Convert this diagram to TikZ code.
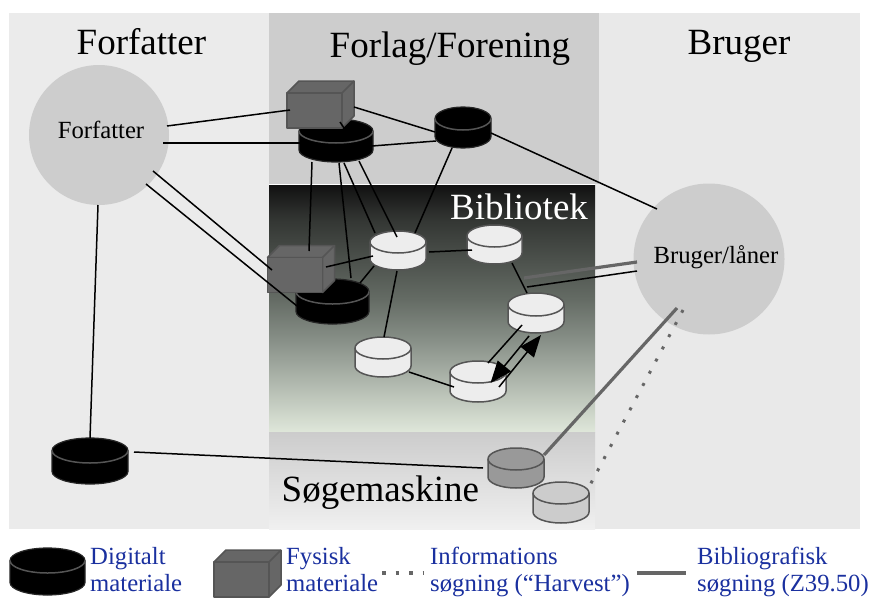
\documentclass[tikz,border=0pt]{standalone}
\usepackage{fontspec}
\setmainfont{Liberation Serif}
\usetikzlibrary{arrows.meta}
\definecolor{panelL}{HTML}{EBEBEB}
\definecolor{panelR}{HTML}{E9E9E9}
\definecolor{panelM}{HTML}{CDCDCD}
\definecolor{roleC}{HTML}{CDCDCD}
\definecolor{boxG}{HTML}{666666}
\definecolor{edgeG}{HTML}{555555}
\definecolor{cylW}{HTML}{EDEDED}
\definecolor{cylF}{HTML}{999999}
\definecolor{cylG}{HTML}{CCCCCC}
\definecolor{legendB}{HTML}{1A309F}
\definecolor{libA}{HTML}{111111}
\definecolor{libB}{HTML}{333633}
\definecolor{libC}{HTML}{646B64}
\definecolor{libD}{HTML}{889088}
\definecolor{libE}{HTML}{DFE7DA}
\definecolor{smTop}{HTML}{CCCCCC}
\definecolor{smBot}{HTML}{F0F0F0}
\pgfdeclareverticalshading{libshade}{100bp}{color(0bp)=(libE); color(25bp)=(libE); color(43.5bp)=(libD); color(52bp)=(libC); color(68bp)=(libB); color(75bp)=(libA); color(100bp)=(libA)}
\pgfdeclareverticalshading{smshade}{100bp}{color(0bp)=(smBot); color(25bp)=(smBot); color(75bp)=(smTop); color(100bp)=(smTop)}
\tikzset{
  x=1pt,y=-1pt,
  title/.style={font=\fontsize{37}{40}\selectfont,anchor=base west,inner sep=0pt},
  small/.style={font=\fontsize{24.7}{28}\selectfont,inner sep=0pt},
  legendtxt/.style={font=\fontsize{24.7}{28}\selectfont,anchor=base west,inner sep=0pt,text=legendB},
  role/.style={circle,fill=roleC,inner sep=0pt},
  link/.style={draw=black,line width=1.5pt},
  biblink/.style={draw=boxG,line width=3.2pt},
  harvest/.style={draw=boxG,line width=3pt,dash pattern=on 3pt off 10.8pt},
  bigarrow/.style={link,-{Triangle[length=22pt,width=17pt]}},
  cylblack/.style={fill=black,draw=black!85!white,line width=1.2pt},
  cylwhite/.style={fill=cylW,draw=edgeG,line width=1.5pt},
  cylgray/.style={fill=cylF,draw=edgeG,line width=1.5pt},
  cyllight/.style={fill=cylG,draw=edgeG,line width=1.5pt},
  cylarc/.style={draw=edgeG,line width=1.5pt},
  boxface/.style={fill=boxG,draw=edgeG,line width=1.5pt,line join=round},
}
% name, x, y, width, height, ellipse radius, style
\newcommand{\cylnode}[7]{%
  \node[minimum width=#4pt,minimum height=#5pt,inner sep=0pt] (#1) at (#2,#3) {};
  \begin{scope}[shift={(#2,#3)}]
    \pgfmathsetmacro{\cylA}{#4/2}
    \pgfmathsetmacro{\cylR}{#6}
    \pgfmathsetmacro{\cylB}{#5/2-#6}
    \pgfmathsetmacro{\cylK}{.5523*\cylA}
    \pgfmathsetmacro{\cylM}{.5523*\cylR}
    \draw[#7] (-\cylA,-\cylB) .. controls (-\cylA,-\cylB-\cylM) and (-\cylK,-\cylB-\cylR) .. (0,-\cylB-\cylR)
       .. controls (\cylK,-\cylB-\cylR) and (\cylA,-\cylB-\cylM) .. (\cylA,-\cylB)
       -- (\cylA,\cylB) .. controls (\cylA,\cylB+\cylM) and (\cylK,\cylB+\cylR) .. (0,\cylB+\cylR)
       .. controls (-\cylK,\cylB+\cylR) and (-\cylA,\cylB+\cylM) .. (-\cylA,\cylB) -- cycle;
    \draw[cylarc] (-\cylA,-\cylB) .. controls (-\cylA,-\cylB+\cylM) and (-\cylK,-\cylB+\cylR) .. (0,-\cylB+\cylR)
       .. controls (\cylK,-\cylB+\cylR) and (\cylA,-\cylB+\cylM) .. (\cylA,-\cylB);
  \end{scope}}
% name, x, y : box of outer size 67 x 47
\newcommand{\boxnode}[3]{%
  \node[minimum width=67pt,minimum height=47pt,inner sep=0pt] (#1) at (#2,#3) {};
  \begin{scope}[shift={(#2,#3)}]
    \draw[boxface] (-33.5,-11.5) -- (-21.5,-23.5) -- (33.5,-23.5) -- (33.5,11.5) -- (21.5,23.5) -- (21.5,-11.5) -- cycle;
    \draw[boxface] (-33.5,-11.5) rectangle (21.5,23.5);
    \draw[boxface] (21.5,-11.5) -- (33.5,-23.5);
  \end{scope}}
% style, node, dx, dy, node, dx, dy
\newcommand{\conn}[7]{\draw[#1] ([shift={(#3,#4)}]#2.center) -- ([shift={(#6,#7)}]#5.center);}
\begin{document}
\begin{tikzpicture}
\useasboundingbox (0,0) rectangle (869,597);
\clip (0,0) rectangle (869,597);
\fill[white] (0,0) rectangle (869,597);
% panels
\fill[panelL] (9,13) rectangle (269,529);
\fill[panelR] (595,13) rectangle (860,529);
\fill[panelM] (269,13) rectangle (599,184);
\shade[shading=libshade] (269,185) rectangle (595,432);
\shade[shading=smshade] (269,432) rectangle (595,529);
\fill[white] (269,184) rectangle (595,185);
% headings
\node[title] (tF) at (76.5,54) {Forfatter};
\node[title] (tL) at (329.5,57) {Forlag/Forening};
\node[title] (tU) at (687.5,54) {Bruger};
\node[title,text=white] (tB) at (450,219) {Bibliotek};
\node[title] (tS) at (281.5,501) {Søgemaskine};
% actors
\node[role,minimum size=140pt] (F) at (99,135) {};
\node[role,minimum size=151pt] (U) at (709,259) {};
\node[small] (Ft) at (101,130) {Forfatter};
\node[small] (Ut) at (716,257) {Bruger/låner};
% stores
\cylnode{c1}{336}{140.5}{74}{43}{12}{cylblack}
\boxnode{b1}{320.5}{104.5}
\cylnode{c2}{463}{127.5}{56}{41}{11.5}{cylblack}
\cylnode{c3}{332.5}{301.5}{73}{45}{12.5}{cylblack}
\boxnode{b2}{301}{269}
\cylnode{A}{398}{250.5}{56}{39}{11}{cylwhite}
\cylnode{B}{494.5}{244.5}{55}{39}{11}{cylwhite}
\cylnode{C}{536}{313}{56}{40}{11.5}{cylwhite}
\cylnode{D}{383}{357}{56}{40}{11}{cylwhite}
\cylnode{E}{478}{381.5}{56}{41}{11}{cylwhite}
\cylnode{Fc}{516}{468}{56}{40}{11}{cylgray}
\cylnode{G}{561}{502.5}{56}{41}{11}{cyllight}
\cylnode{H}{90}{461}{76}{46}{12.5}{cylblack}
% connectors
\conn{link}{F}{68}{-9}{b1}{-30.5}{5.5}
\conn{link}{F}{64}{8}{c1}{-36}{2.5}
\conn{link}{b1}{33.5}{2.5}{c2}{-28}{4.5}
\conn{link}{c1}{36}{5.5}{c2}{-27}{13.5}
\conn{link}{c2}{28}{5.5}{U}{-52}{-50}
\conn{link}{c2}{-11}{20.5}{A}{17}{-17.5}
\conn{link}{c1}{-24}{21.5}{b2}{8}{-18}
\conn{link}{c1}{3}{22.5}{c3}{18.5}{-23.5}
\conn{link}{c1}{8}{22.5}{A}{-23}{-17.5}
\conn{link}{c1}{23}{20.5}{A}{-1}{-13.5}
\conn{link}{b1}{19.5}{17.5}{c1}{8}{-12.5}
\conn{link}{b2}{25}{-2}{A}{-25}{5.5}
\conn{link}{c3}{27.5}{-18.5}{A}{-24}{15.5}
\conn{link}{A}{31}{1.5}{B}{-22.5}{5.5}
\conn{link}{A}{-1}{20.5}{D}{1}{-20}
\conn{link}{B}{17.5}{18.5}{C}{-9}{-20}
\conn{link}{D}{26}{15}{E}{-24}{5.5}
\conn{link}{C}{-14}{12}{E}{10}{-18.5}
\conn{bigarrow}{C}{-7}{23}{E}{12.5}{1.5}
\conn{bigarrow}{E}{21}{5.5}{C}{5}{22}
\conn{biblink}{C}{-12}{-35}{U}{-72}{3}
\conn{link}{C}{-9}{-26}{U}{-72}{12}
\conn{biblink}{U}{-32}{49}{Fc}{28}{-13}
\conn{harvest}{U}{-26}{51}{G}{29}{-17.5}
\conn{link}{F}{54}{36}{b2}{-29}{1}
\conn{link}{F}{47}{49}{c3}{-35.5}{4.5}
\conn{link}{F}{-1}{70}{H}{0}{-23}
\conn{link}{H}{44}{-9}{Fc}{-33}{0}
% legend
\cylnode{lc}{47.5}{571.5}{75}{47}{12.5}{cylblack}
\boxnode{lb}{247.5}{573.5}
\node[legendtxt] (l1a) at (90,564) {Digitalt};
\node[legendtxt] (l1b) at (90,591.5) {materiale};
\node[legendtxt] (l2a) at (286,564) {Fysisk};
\node[legendtxt] (l2b) at (286,591.5) {materiale};
\node[legendtxt] (l3a) at (430,564) {Informations};
\node[legendtxt] (l3b) at (430,591.5) {søgning (“Harvest”)};
\node[legendtxt] (l4a) at (697,564) {Bibliografisk};
\node[legendtxt] (l4b) at (697,591.5) {søgning (Z39.50)};
\coordinate (h1) at (382,573);
\coordinate (h2) at (424,573);
\coordinate (z1) at (637,573);
\coordinate (z2) at (686,573);
\draw[harvest,line width=3.5pt,dash pattern=on 3.5pt off 10pt] (h1) -- (h2);
\draw[biblink] (z1) -- (z2);
\end{tikzpicture}
\end{document}
